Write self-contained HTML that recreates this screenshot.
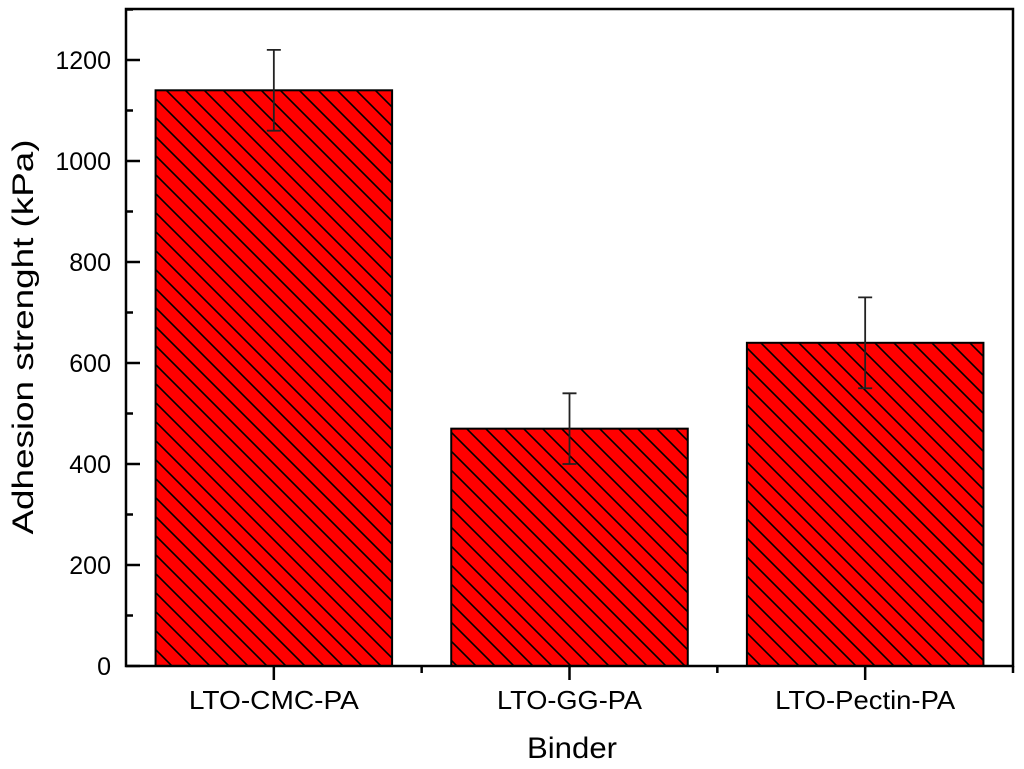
<!DOCTYPE html>
<html><head><meta charset="utf-8"><style>
html,body{margin:0;padding:0;background:#fff;}
svg{display:block;font-family:"Liberation Sans",Arial,sans-serif;}
</style></head><body>
<svg id="chart" width="1024" height="769" viewBox="0 0 1024 769">
<defs>
<pattern id="hatch" patternUnits="userSpaceOnUse" width="19" height="19">
<rect width="19" height="19" fill="#ff0000"/>
<path d="M-5,-5 L24,24 M-5,14 L5,24 M14,-5 L24,5" stroke="#000" stroke-width="1.6"/>
</pattern>
</defs>
<g id="plot"></g>
</svg>
<script>
const categories = ["LTO-CMC-PA","LTO-GG-PA","LTO-Pectin-PA"];
const values = [1140,470,640];
const errLow = [1060,400,550];
const errHigh = [1220,540,730];
const yTicks = [0,200,400,600,800,1000,1200];
const L=126,R=1013,T=9,B=666;
function y(v){return B-(v/1200)*(B-60);}
function x(i){return L+(i+0.5)/3*(R-L);}
const g=document.getElementById('plot');
const NS='http://www.w3.org/2000/svg';
function mk(t,a){const e=document.createElementNS(NS,t);for(const k in a)e.setAttribute(k,a[k]);g.appendChild(e);return e;}
const bw=0.8*(R-L)/3;
const labelW=[170,145,180];
categories.forEach((c,i)=>{
  const r=mk('rect',{x:x(i)-bw/2,y:y(values[i]),width:bw,height:B-y(values[i]),fill:'url(#hatch)',stroke:'#000','stroke-width':2});
  
  
  const e=mk('path',{d:`M${x(i)},${y(errLow[i])}V${y(errHigh[i])}M${x(i)-7},${y(errLow[i])}h14M${x(i)-7},${y(errHigh[i])}h14`,stroke:'#222','stroke-width':1.8,fill:'none'});
  
  
  const t=mk('text',{x:x(i),y:709,'text-anchor':'middle','font-size':26,textLength:labelW[i],lengthAdjust:'spacingAndGlyphs'});
  t.textContent=c;
  
  
  mk('line',{x1:x(i),x2:x(i),y1:B,y2:B+14,stroke:'#000','stroke-width':2.5});
  mk('line',{x1:x(i)+(R-L)/6,x2:x(i)+(R-L)/6,y1:B,y2:B+7,stroke:'#000','stroke-width':2.5});
});
yTicks.forEach(v=>{
  mk('line',{x1:L,x2:L+14,y1:y(v),y2:y(v),stroke:'#000','stroke-width':2.5});
  mk('line',{x1:L,x2:L+7,y1:y(v+100),y2:y(v+100),stroke:'#000','stroke-width':2.5});
  const t=mk('text',{x:L-15,y:y(v)+9,'text-anchor':'end','font-size':25});
  t.textContent=v;
  
  
});
const f=mk('rect',{x:L,y:T,width:R-L,height:B-T,fill:'none',stroke:'#000','stroke-width':2.5});


const xt=mk('text',{x:572,y:758,'text-anchor':'middle','font-size':30,textLength:90,lengthAdjust:'spacingAndGlyphs'});
xt.textContent='Binder';


const yt=mk('text',{x:0,y:0,'text-anchor':'middle','font-size':30,textLength:395,lengthAdjust:'spacingAndGlyphs',transform:`translate(33,337) rotate(-90)`});
yt.textContent='Adhesion strenght (kPa)';


</script>
</body></html>
